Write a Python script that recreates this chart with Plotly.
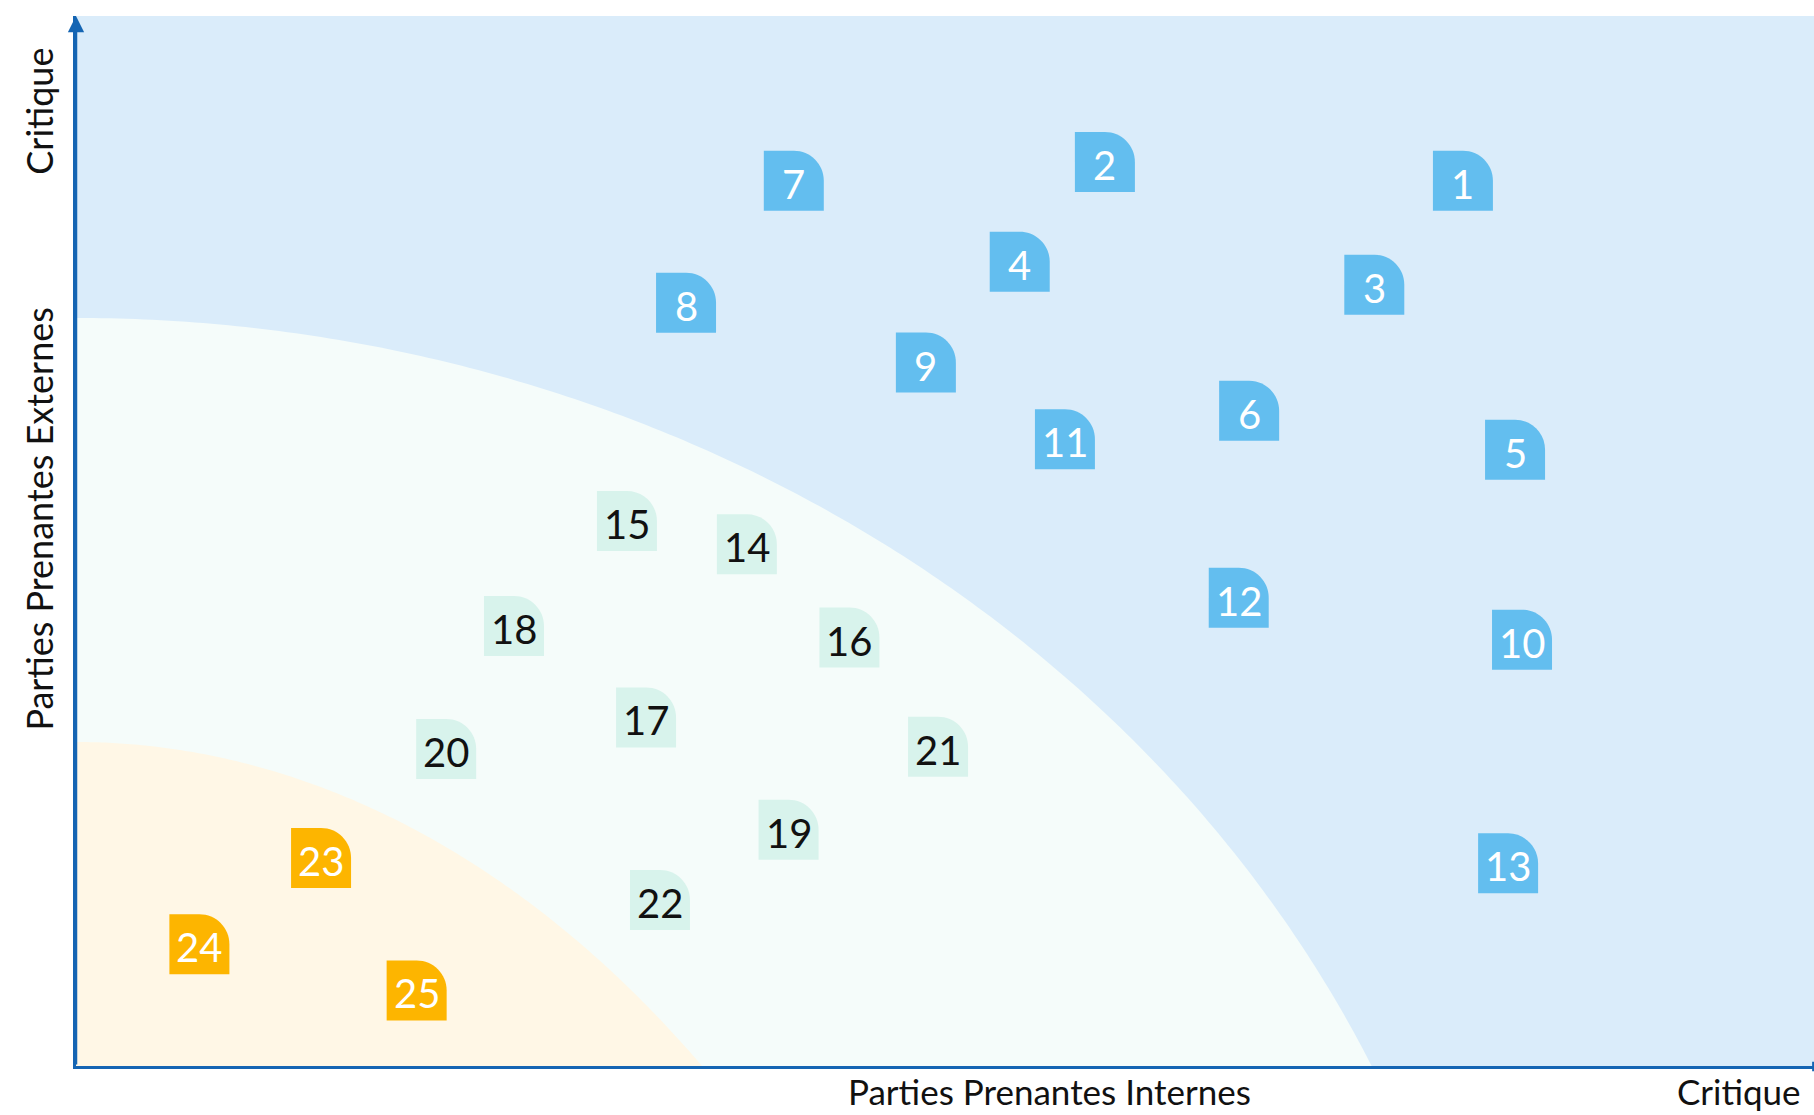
import numpy as np
import plotly.graph_objects as go

# ---------------- data ----------------
ids = [str(i) for i in range(1, 26)]
x_internes = [7.98, 5.92, 7.47, 5.43, 8.28, 6.75, 4.13, 3.51, 4.89, 8.32, 5.69, 6.69, 8.24,
              3.86, 3.17, 4.45, 3.28, 2.52, 4.10, 2.13, 4.96, 3.36,
              1.41, 0.71, 1.96]
y_externes = [8.43, 8.61, 7.44, 7.66, 5.87, 6.24, 8.43, 7.27, 6.70, 4.06, 5.97, 4.46, 1.93,
              4.97, 5.19, 4.08, 3.32, 4.19, 2.25, 3.02, 3.04, 1.58,
              1.98, 1.16, 0.72]
niveau = ["critique"] * 13 + ["important"] * 9 + ["modere"] * 3

x_title = "Parties Prenantes Internes"
y_title = "Parties Prenantes Externes"
end_label = "Critique"

# ---------------- styles ----------------
FONT = "Lato"
AXIS_COLOR = "#1565B3"
BG_BLUE = "#DAECFA"
marker_fill = {"critique": "#63BEEF", "important": "#D8F3EC", "modere": "#FDB500"}
label_color = {"critique": "#FFFFFF", "important": "#111111", "modere": "#FFFFFF"}

# zone boundaries: ellipse arcs (center on the y axis, below the x axis)
zones = [
    dict(yc=-5.086, a=8.20, b=12.21, color="#F5FCFA"),
    dict(yc=-12.0, a=5.944, b=15.086, color="#FFF7E6"),
]


def zone_path(yc, a, b):
    y_low = -0.5
    t_end = np.arcsin((y_low - yc) / b)
    t = np.linspace(np.pi / 2, t_end, 200)
    xs = a * np.cos(t)
    ys = yc + b * np.sin(t)
    pts = [(-0.5, ys[0])] + list(zip(xs, ys)) + [(-0.5, y_low)]
    return "M " + " L ".join(f"{px:.4f},{py:.4f}" for px, py in pts) + " Z"


shapes = []
for z in zones:
    shapes.append(dict(type="path", xref="x", yref="y", path=zone_path(z["yc"], z["a"], z["b"]),
                       fillcolor=z["color"], line=dict(width=0), layer="below"))

# marker glyph: square with rounded top-right corner (pixel units, y up)
H = 30
K = H * 0.5523
MARKER_PATH = (f"M {-H},{-H} L {H},{-H} L {H},0 C {H},{K:.2f} {K:.2f},{H} 0,{H} "
               f"L {-H},{H} Z")

for xv, yv, lv in zip(x_internes, y_externes, niveau):
    shapes.append(dict(type="path", xref="x", yref="y", xsizemode="pixel", ysizemode="pixel",
                       xanchor=xv, yanchor=yv, path=MARKER_PATH,
                       fillcolor=marker_fill[lv], line=dict(width=0), layer="below"))

# small tick at the right end of the x axis
shapes.append(dict(type="line", xref="paper", yref="paper", x0=0.9995, x1=0.9995,
                   y0=-0.005, y1=0.004, line=dict(color=AXIS_COLOR, width=2)))

annotations = []
# labels inside markers
for xv, yv, t, lv in zip(x_internes, y_externes, ids, niveau):
    annotations.append(dict(x=xv, y=yv, xref="x", yref="y", text=t, showarrow=False,
                            xanchor="center", yanchor="middle", yshift=-3,
                            font=dict(family=FONT, size=40, color=label_color[lv])))

annotations += [
    # y-axis arrow
    dict(x=0, y=10, ax=0, ay=0, xref="x", yref="y", axref="x", ayref="y",
         text="", showarrow=True, arrowhead=2, arrowsize=1.3, arrowwidth=2.5,
         arrowcolor=AXIS_COLOR, standoff=0),
    dict(x=0.5604, y=-0.0240, xref="paper", yref="paper", text=x_title, showarrow=False,
         xanchor="center", yanchor="middle", font=dict(family=FONT, size=35, color="#111111")),
    dict(x=0.9937, y=-0.0240, xref="paper", yref="paper", text=end_label, showarrow=False,
         xanchor="right", yanchor="middle", font=dict(family=FONT, size=35, color="#111111")),
    dict(x=-0.0215, y=0.521, xref="paper", yref="paper", text=y_title, showarrow=False,
         textangle=-90, xanchor="center", yanchor="middle",
         font=dict(family=FONT, size=36, color="#111111")),
    dict(x=-0.0215, y=0.9095, xref="paper", yref="paper", text=end_label, showarrow=False,
         textangle=-90, xanchor="center", yanchor="middle",
         font=dict(family=FONT, size=36, color="#111111")),
]

fig = go.Figure()
# invisible trace carrying the points (keeps the axes data-driven)
fig.add_trace(go.Scatter(x=x_internes, y=y_externes, mode="markers",
                         marker=dict(size=1, opacity=0), hoverinfo="skip", showlegend=False))

fig.update_layout(
    width=1814, height=1115,
    margin=dict(l=76, r=0, t=16, b=49),
    paper_bgcolor="#FFFFFF", plot_bgcolor=BG_BLUE,
    shapes=shapes, annotations=annotations, showlegend=False,
    xaxis=dict(range=[0, 10], showgrid=False, zeroline=False, showticklabels=False,
               ticks="", showline=True, linecolor=AXIS_COLOR, linewidth=2.5, fixedrange=True),
    yaxis=dict(range=[0, 10], showgrid=False, zeroline=False, showticklabels=False,
               ticks="", showline=True, linecolor=AXIS_COLOR, linewidth=2.5, fixedrange=True),
)

fig.write_html("out.html", config={"displayModeBar": False},
               post_script="document.body.style.margin='0';document.body.style.overflow='hidden';")
